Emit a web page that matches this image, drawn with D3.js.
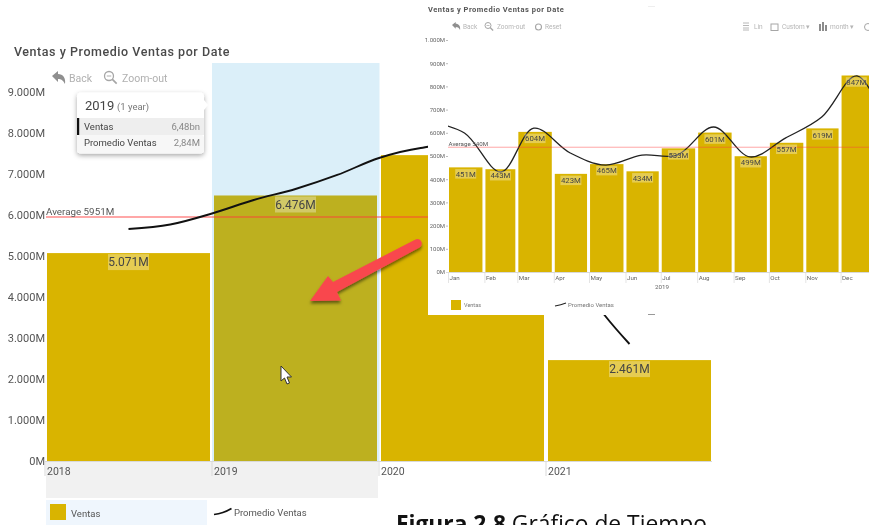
<!DOCTYPE html>
<html><head><meta charset="utf-8">
<script src="https://cdn.jsdelivr.net/npm/d3@7/dist/d3.min.js"></script>
<style>
html,body{margin:0;padding:0;background:#fff;overflow:hidden}
svg{display:block;font-family:"Open Sans",sans-serif;filter:blur(0.45px)}
</style></head><body>
<svg id="c" width="869" height="525"></svg>
<script>
const years=["2018","2019","2020","2021"];
const yearVentas=[5071,6476,7460,2461];
const promedioPos=[0,.25,.5,.75,1,1.25,1.5,1.75,2,2.5,2.85,3];
const promedioVal=[5659,5768,6037,6366,6634,6976,7390,7634,7683,5512,3561,2854];
const yearTicks=[0,1000,2000,3000,4000,5000,6000,7000,8000,9000];
const yearAverage=5951;
const months=["Jan","Feb","Mar","Apr","May","Jun","Jul","Aug","Sep","Oct","Nov","Dec"];
const monthVentas=[451,443,604,423,465,434,533,601,499,557,619,847];
const monthPromedio=[650,599,431,620,513,461,504,504,625,496,577,668,845,560];
const monthTicks=[0,100,200,300,400,500,600,700,800,900,1000];
const monthAverage=540;
const C={bar:"#d9b400",sel:"#bdb01f",axis:"#555",grid:"#d9d9d9",avg:"#ff3b3b",tool:"#a6a6a6"};
const fmt=v=>d3.format(",")(v).replace(/,/g,".")+"M";
const svg=d3.select("#c");

/* ---------- main chart ---------- */
svg.append("text").attr("x",14).attr("y",56).attr("font-size",12.5).attr("font-family","Roboto").attr("font-weight",500)
  .attr("letter-spacing",.55).attr("fill","#4a4a4a").text("Ventas y Promedio Ventas por Date");
const x=d3.scaleBand().domain(years).range([45,713]).paddingInner(.024).paddingOuter(.012);
const y=d3.scaleLinear().domain([0,9000]).range([461,92]);
const xc=d=>x(d)+x.bandwidth()/2;
const xPos=d3.scaleLinear().domain([0,3]).range([xc("2018"),xc("2021")]);
svg.append("rect").attr("x",212).attr("y",63).attr("width",167.5).attr("height",398).attr("fill","#dbeff9");
svg.append("rect").attr("x",46).attr("y",462).attr("width",332).attr("height",36).attr("fill","#f1f1f1");
svg.append("rect").attr("x",46).attr("y",500).attr("width",161).attr("height",25).attr("fill","#eff6fd");
svg.selectAll(".yb").data(years).join("rect").attr("x",d=>x(d)).attr("width",x.bandwidth())
  .attr("y",(d,i)=>y(yearVentas[i])).attr("height",(d,i)=>y(0)-y(yearVentas[i]))
  .attr("fill",(d,i)=>i==1?C.sel:C.bar);
const yAxis=d3.axisLeft(y).tickValues(yearTicks).tickFormat(fmt).tickSize(0).tickPadding(0);
const gy=svg.append("g").attr("transform","translate(45,0)").call(yAxis);
gy.select(".domain").remove();
gy.selectAll("text").attr("font-size",11).attr("font-family","Roboto").attr("fill",C.axis);
svg.append("line").attr("x1",44).attr("x2",712).attr("y1",461.5).attr("y2",461.5).attr("stroke",C.grid);
svg.selectAll(".yt").data(years).join("g").each(function(d){
  const g=d3.select(this),px=x(d);
  g.append("line").attr("x1",px-2).attr("x2",px-2).attr("y1",462).attr("y2",476).attr("stroke",C.grid);
  g.append("text").attr("x",px).attr("y",475).attr("font-size",10.5).attr("font-family","Roboto").attr("fill",C.axis).text(d);
});
svg.append("line").attr("x1",46).attr("x2",428).attr("y1",y(yearAverage)).attr("y2",y(yearAverage)).attr("stroke",C.avg).attr("stroke-width",1.3).attr("stroke-opacity",.6);
svg.append("text").attr("x",46).attr("y",215).attr("font-size",9.8).attr("font-family","Roboto").attr("fill","#555").text("Average 5951M");
const yLine=d3.line().x((d,i)=>xPos(promedioPos[i])).y(d=>y(d)).curve(d3.curveCatmullRom.alpha(.5));
svg.append("path").attr("d",yLine(promedioVal)).attr("fill","none").attr("stroke","#111").attr("stroke-width",1.9);
function label(parent,cx,cy,t,fs,h,w){
  parent.append("rect").attr("x",cx-w/2).attr("y",cy-h/2).attr("width",w).attr("height",h).attr("fill","#fff").attr("opacity",.32);
  parent.append("text").attr("x",cx).attr("y",cy).attr("dy",".35em").attr("text-anchor","middle").attr("font-size",fs).attr("font-family","Roboto").attr("fill","#444").text(t);
}
[0,1,3].forEach(i=>label(svg,xc(years[i]),y(yearVentas[i])+9,fmt(yearVentas[i]),12,16,41));

/* toolbar main */
function back(g,px,py,s,col){g.append("path").attr("transform",`translate(${px},${py}) scale(${s})`).attr("fill",col)
  .attr("d","M0 5 L6 0 V3 C11 3 14 7 13 13 C11 9 9 8 6 8 V11 Z");}
function mag(g,px,py,r,col,sw){g.append("circle").attr("cx",px).attr("cy",py).attr("r",r).attr("fill","none").attr("stroke",col).attr("stroke-width",sw);
  g.append("line").attr("x1",px+r*.7).attr("y1",py+r*.7).attr("x2",px+r*1.7).attr("y2",py+r*1.7).attr("stroke",col).attr("stroke-width",sw+.4);
  g.append("line").attr("x1",px-r*.5).attr("x2",px+r*.5).attr("y1",py).attr("y2",py).attr("stroke",col).attr("stroke-width",sw*.7);}
function tt(g,px,py,t,fs,col,a){return g.append("text").attr("x",px).attr("y",py).attr("font-size",fs).attr("font-family","Roboto").attr("fill",col).attr("text-anchor",a||"start").text(t);}
back(svg,52,71,1,"#8f8f8f");tt(svg,69,82,"Back",10.5,"#b0b0b0");
mag(svg,109,76,4.5,C.tool,1.3);tt(svg,122,82,"Zoom-out",10.5,"#b0b0b0");

/* legend main */
svg.append("rect").attr("x",50).attr("y",504).attr("width",16).attr("height",16).attr("fill",C.bar);
tt(svg,71,517,"Ventas",9.5,"#555");
svg.append("path").attr("d","M214 514.5 Q223 513.5 231.5 508.5").attr("fill","none").attr("stroke","#111").attr("stroke-width",1.7);
tt(svg,234,515.5,"Promedio Ventas",9.5,"#555");

/* cursor */
svg.append("path").attr("d","M281 366 V381 L284.5 378 L287 384 L289.5 383 L287 377 H291.5 Z").attr("fill","#fff").attr("stroke","#333").attr("stroke-width",1);

/* caption */
const cap=svg.append("text").attr("x",396).attr("y",532).attr("font-size",22.8).attr("font-family","Open Sans").attr("fill","#111");
cap.append("tspan").attr("font-weight",700).text("Figura 2.8");cap.append("tspan").text(" Gráfico de Tiempo");

/* ---------- inset ---------- */
svg.append("defs").html(`<clipPath id="ic"><rect x="448" y="0" width="421" height="315"/></clipPath>
<filter id="sh" x="-20%" y="-20%" width="140%" height="140%"><feDropShadow dx="0" dy="2" stdDeviation="2.5" flood-color="#000" flood-opacity=".35"/></filter>
<filter id="sa" x="-20%" y="-20%" width="140%" height="150%"><feDropShadow dx="0" dy="2.5" stdDeviation="1.6" flood-color="#000" flood-opacity=".5"/></filter>`);
svg.append("rect").attr("x",428).attr("y",0).attr("width",441).attr("height",315).attr("fill","#fff");
const ins=svg.append("g");
const mx=d3.scaleTime().domain([new Date(2019,0,1),new Date(2020,0,1)]).range([448,877]);
const my=d3.scaleLinear().domain([0,1000]).range([272,40]);
tt(ins,428,12,"Ventas y Promedio Ventas por Date",7.5,"#555").attr("font-weight",700).attr("letter-spacing",.52);
back(ins,452,22,.62,"#8f8f8f");tt(ins,463,29,"Back",6.5,"#b5b5b5");
mag(ins,488,25.5,3,C.tool,1);tt(ins,497,29,"Zoom-out",6.5,"#b5b5b5");
ins.append("circle").attr("cx",538.5).attr("cy",27).attr("r",3).attr("fill","none").attr("stroke",C.tool).attr("stroke-width",1.1);
tt(ins,545,29,"Reset",6.5,"#b5b5b5");
ins.append("path").attr("d","M743 23h6M743 25.5h6M743 28h6M743 30h6").attr("stroke",C.tool).attr("stroke-width",.8);
tt(ins,754,29,"Lin",6.5,"#b5b5b5");
ins.append("rect").attr("x",771).attr("y",24).attr("width",7).attr("height",6.5).attr("fill","none").attr("stroke",C.tool).attr("stroke-width",1);
tt(ins,782,29,"Custom ▾",6.5,"#b5b5b5");
ins.append("path").attr("d","M820 24v7M823 22v9M826 25v6").attr("stroke","#8c8c8c").attr("stroke-width",2);
tt(ins,830,29,"month ▾",6.5,"#b5b5b5");
ins.append("circle").attr("cx",868).attr("cy",27).attr("r",3.5).attr("fill","none").attr("stroke",C.tool);

const bars=ins.append("g").attr("clip-path","url(#ic)");
const mStart=i=>new Date(2019,i,1),mEnd=i=>new Date(2019,i+1,1);
bars.selectAll("rect").data(months).join("rect")
  .attr("x",(d,i)=>mx(mStart(i))+1).attr("width",(d,i)=>mx(mEnd(i))-mx(mStart(i))-3)
  .attr("y",(d,i)=>my(monthVentas[i])).attr("height",(d,i)=>my(0)-my(monthVentas[i])).attr("fill",C.bar);
const myA=d3.axisLeft(my).tickValues(monthTicks).tickFormat(fmt).tickSize(2).tickPadding(1);
const giy=ins.append("g").attr("transform","translate(448,0)").call(myA);
giy.select(".domain").remove();
giy.selectAll("text").attr("font-size",6).attr("font-family","Roboto").attr("fill","#666");
giy.selectAll("line").attr("stroke","#bbb");
ins.append("line").attr("x1",446).attr("x2",869).attr("y1",272.5).attr("y2",272.5).attr("stroke",C.grid);
months.forEach((m,i)=>{
  const px=mx(mStart(i));
  ins.append("line").attr("x1",px+.5).attr("x2",px+.5).attr("y1",273).attr("y2",283).attr("stroke","#e4e4e4");
  tt(ins,px+1.5,280,m,6.2,"#666");
});
tt(ins,662,289,"2019",6.2,"#666","middle");
ins.append("line").attr("x1",448).attr("x2",869).attr("y1",my(monthAverage)+.5).attr("y2",my(monthAverage)+.5).attr("stroke",C.avg).attr("stroke-opacity",.45);
tt(ins,448.5,146,"Average 540M",6.2,"#555");
const lineDates=d3.range(-1,13).map(i=>new Date(2019,i,15));
const mLine=d3.line().x((d,i)=>mx(lineDates[i])).y(d=>my(d)).curve(d3.curveCatmullRom.alpha(.5));
bars.append("path").attr("d",mLine(monthPromedio)).attr("fill","none").attr("stroke","#222").attr("stroke-width",1.3);
months.forEach((m,i)=>{
  const cx=(mx(mStart(i))+mx(mEnd(i)))/2-(i==11?2.5:.5);
  label(ins,cx,my(monthVentas[i])+6.5,monthVentas[i]+"M",7.8,9.5,21);
});
ins.append("rect").attr("x",451).attr("y",300).attr("width",10).attr("height",10).attr("fill",C.bar);
tt(ins,464,307,"Ventas",5.5,"#777");
ins.append("path").attr("d","M555 306 Q561 305 566 303").attr("fill","none").attr("stroke","#222").attr("stroke-width",1.1);
tt(ins,568,307,"Promedio Ventas",6,"#777");
ins.append("line").attr("x1",648).attr("x2",655).attr("y1",314.5).attr("y2",314.5).attr("stroke","#999");
ins.append("line").attr("x1",648).attr("x2",655).attr("y1",6.5).attr("y2",6.5).attr("stroke","#eee");

/* ---------- tooltip ---------- */
const tip=svg.append("g");
tip.append("rect").attr("x",77).attr("y",92.5).attr("width",127).attr("height",61).attr("rx",4).attr("fill","#fff").attr("filter","url(#sh)");
tip.append("path").attr("d","M204 100 L208 105 L204 110Z").attr("fill","#fff");
tip.append("rect").attr("x",77).attr("y",118).attr("width",127).attr("height",17).attr("fill","#eeeeee");
tip.append("rect").attr("x",77).attr("y",135).attr("width",127).attr("height",18).attr("rx",3).attr("fill","#f7f7f7");
tip.append("rect").attr("x",77).attr("y",118).attr("width",2.2).attr("height",17).attr("fill","#111");
tt(tip,85,110,"2019",13,"#444");tt(tip,117,110,"(1 year)",9.5,"#777");
tt(tip,84,130,"Ventas",9.5,"#444");tt(tip,200,130,"6,48bn",9.5,"#888","end");
tt(tip,84,146,"Promedio Ventas",9.5,"#444");tt(tip,200,146,"2,84M",9.5,"#888","end");

/* ---------- arrow ---------- */
svg.append("path").attr("d","M310 301 L328 276 L333 282 L415.5 239.5 Q420 238 421.5 242 Q422.5 246 419.5 247.5 L337 292 L341 300.5 Z")
  .attr("fill","#f9474e").attr("filter","url(#sa)");
</script>
</body></html>
